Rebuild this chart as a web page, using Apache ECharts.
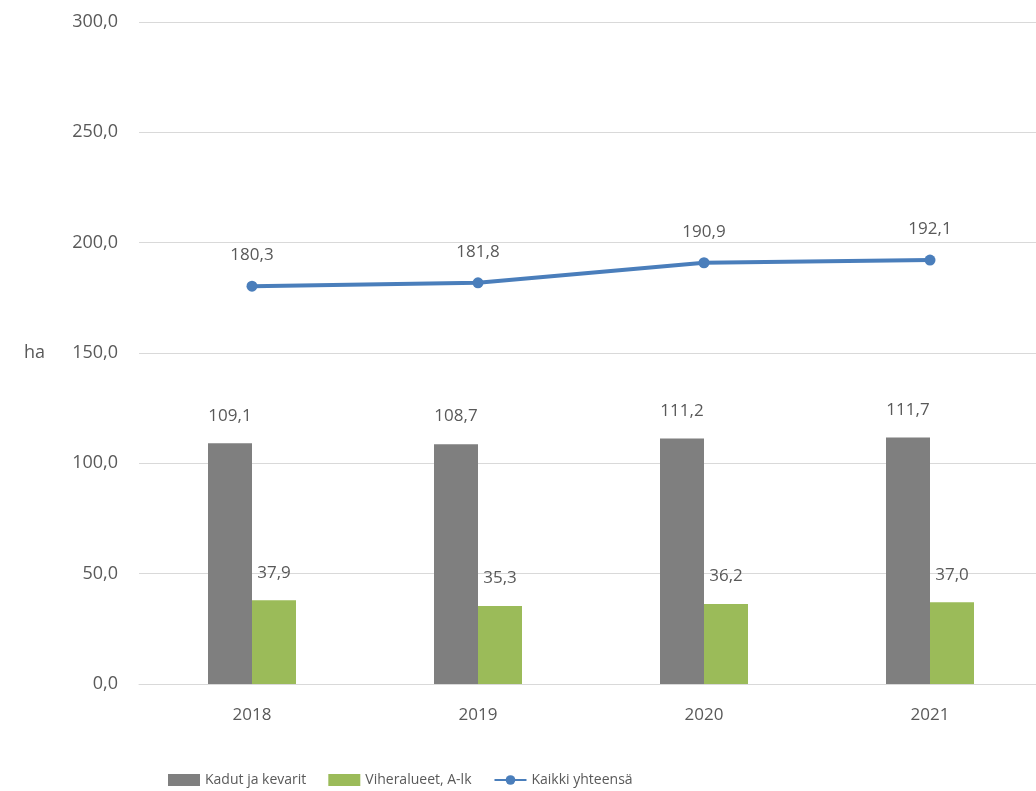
<!DOCTYPE html>
<html>
<head>
<meta charset="utf-8">
<script src="https://cdn.jsdelivr.net/npm/echarts@6/dist/echarts.min.js"></script>
<style>
  html, body { margin: 0; padding: 0; background: #fff; }
  #chart { width: 1036px; height: 791px; }
</style>
</head>
<body>
<div id="chart"></div>
<script>
const years = ['2018', '2019', '2020', '2021']
const kadut = [109.1, 108.7, 111.2, 111.7]
const viher = [37.9, 35.3, 36.2, 37.0]
const kaikki = [180.3, 181.8, 190.9, 192.1]

const fmt = v => Number(v).toFixed(1).replace('.', ',')
const txt = '#595959'
const font = 'Open Sans'

const chart = echarts.init(document.getElementById('chart'))

chart.setOption({
  animation: false,
  textStyle: { fontFamily: font },
  grid: { left: 139, top: 22, width: 904, height: 662, outerBoundsMode: 'none', containLabel: false },
  legend: {
    left: 163,
    top: 768,
    itemGap: 22,
    itemWidth: 32,
    itemHeight: 12,
    textStyle: { color: txt, fontSize: 14, fontFamily: font },
    data: [
      { name: 'Kadut ja kevarit', icon: 'rect' },
      { name: 'Viheralueet, A-lk', icon: 'rect' },
      { name: 'Kaikki yhteensä' }
    ]
  },
  xAxis: {
    type: 'category',
    data: years,
    axisLine: { lineStyle: { color: '#d9d9d9' } },
    axisTick: { show: false },
    axisLabel: { color: txt, fontSize: 17, margin: 23 }
  },
  yAxis: {
    type: 'value',
    min: 0,
    max: 300,
    interval: 50,
    name: 'ha',
    nameLocation: 'middle',
    nameRotate: 0,
    nameGap: 94,
    nameTextStyle: { color: txt, fontSize: 18 },
    axisLabel: { color: txt, fontSize: 18, margin: 21, formatter: fmt },
    splitLine: { lineStyle: { color: '#d9d9d9' } }
  },
  series: [
    {
      name: 'Kadut ja kevarit',
      type: 'bar',
      data: kadut,
      barWidth: 44,
      barGap: '0%',
      itemStyle: { color: '#7f7f7f' },
      label: { show: true, position: 'top', distance: 19, color: txt, fontSize: 17, formatter: p => fmt(p.value) }
    },
    {
      name: 'Viheralueet, A-lk',
      type: 'bar',
      data: viher,
      barWidth: 44,
      barGap: '0%',
      itemStyle: { color: '#9bbb59' },
      label: { show: true, position: 'top', distance: 19, color: txt, fontSize: 17, formatter: p => fmt(p.value) }
    },
    {
      name: 'Kaikki yhteensä',
      type: 'line',
      data: kaikki,
      symbol: 'circle',
      symbolSize: 11,
      lineStyle: { color: '#4a7ebb', width: 4 },
      itemStyle: { color: '#4a7ebb' },
      label: { show: true, position: 'top', distance: 17, color: txt, fontSize: 17, formatter: p => fmt(p.value) }
    }
  ]
})
</script>
</body>
</html>
